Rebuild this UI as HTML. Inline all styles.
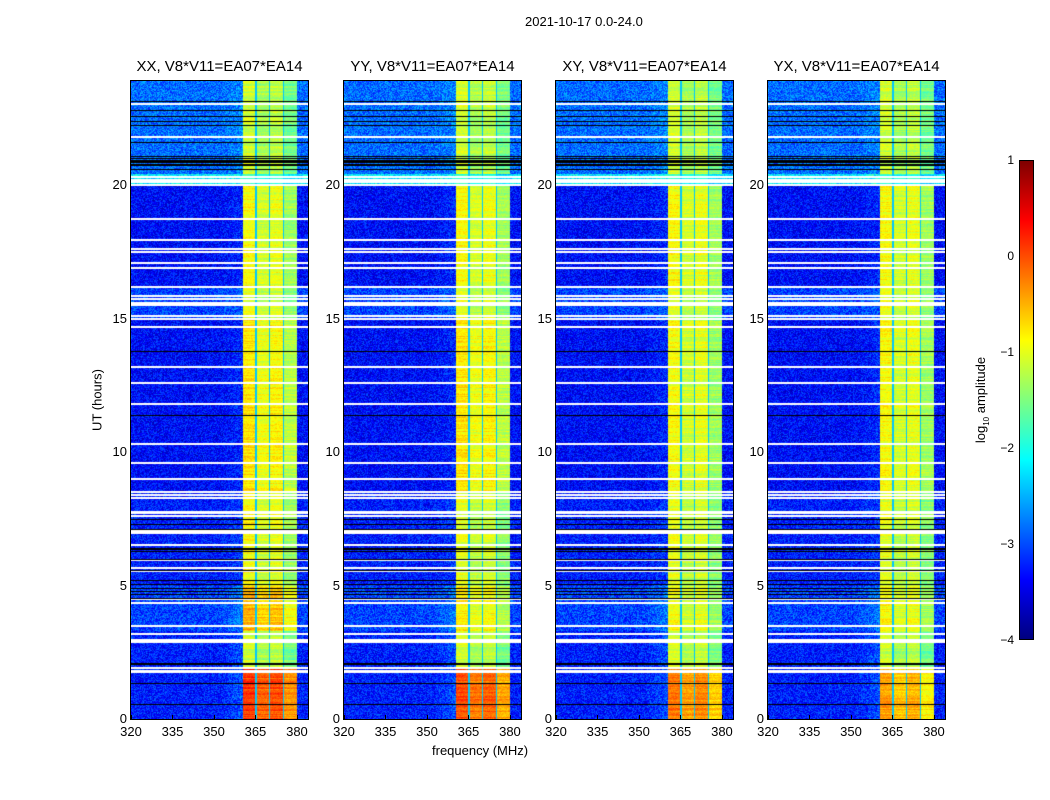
<!DOCTYPE html>
<html><head><meta charset="utf-8">
<style>
body{margin:0;background:#fff;font-family:"Liberation Sans","DejaVu Sans",sans-serif;}
#wrap{position:relative;width:1050px;height:800px;overflow:hidden;background:#fff;}
.t{position:absolute;white-space:nowrap;color:#000;}
canvas{position:absolute;}
.frame{position:absolute;border:1px solid #000;box-sizing:border-box;}
</style></head><body>
<div id="wrap">
<div class="t" style="left:525px;top:14px;font-size:13px;">2021-10-17 0.0-24.0</div>
<div class="t" style="top:400px;font-size:13px;transform:translate(-50%,-50%) rotate(-90deg);left:97px;">UT (hours)</div>
<div class="t" style="left:432px;top:743px;font-size:13px;">frequency (MHz)</div>
<div class="t" style="left:982px;top:400px;font-size:13px;transform:translate(-50%,-50%) rotate(-90deg);">log<sub style="font-size:8px">10</sub> amplitude</div>
</div>
<script>
// ---- data ----
const panelTitles=["XX, V8*V11=EA07*EA14","YY, V8*V11=EA07*EA14","XY, V8*V11=EA07*EA14","YX, V8*V11=EA07*EA14"];
const xTicks=[320,335,350,365,380];
const yTicks=[0,5,10,15,20];
const cbTicks=[1,0,-1,-2,-3,-4];
const subbandStart=[360.4,365.4,370.3,375.3];
const subbandEnd=[365.0,370.0,374.9,380.0];
const subbandOffset=[0.1,-0.1,0.0,-0.35];
const segStart=[0,1.9,3.3,5.0,8.5,15.0,16.2,20.0,20.4];
const segEnd=[1.9,3.3,5.0,8.5,15.0,16.2,20.0,20.4,24.0];
const segBg=[-3.25,-3.25,-3.05,-3.25,-3.35,-3.05,-3.35,-2.2,-2.85];
const bandXX=[0.0,-1.2,-0.6,-1.0,-0.85,-1.1,-1.0,-2.0,-1.2];
const bandYY=[-0.1,-1.2,-0.9,-1.1,-0.85,-1.1,-1.0,-2.0,-1.2];
const bandXY=[-0.3,-1.2,-1.0,-1.1,-1.0,-1.1,-1.0,-2.0,-1.2];
const bandYX=[-0.5,-1.2,-1.0,-1.1,-1.0,-1.1,-1.0,-2.0,-1.2];
const whiteFlags=[23.03,21.8,20.0,20.1,20.2,20.3,18.73,17.94,17.6,17.5,17.1,16.9,16.2,15.85,15.75,15.6,15.5,15.1,15.0,14.7,13.2,12.6,11.8,10.3,9.6,9.0,8.5,8.4,8.28,7.75,7.7,7.6,7.06,6.95,6.5,5.95,5.65,5.55,4.5,4.36,3.5,3.2,2.95,2.9,1.9,1.8,1.75];
const blackFlags=[23.15,22.8,22.6,22.4,22.25,21.6,21.1,21.0,20.95,20.9,20.85,20.8,20.75,20.6,13.8,11.4,7.5,7.3,7.1,6.4,6.35,6.3,5.98,5.6,5.2,5.05,4.92,4.8,4.7,4.55,2.1,2.05,1.35,0.55];
const bandSets=[bandXX,bandYY,bandXY,bandYX];
// ---- layout ----
const panelLeft=[131,344,556,768];
const pTop=81,pW=177,pH=638,fMin=320,fMax=384,hMin=0,hMax=23.9;
const wrap=document.getElementById('wrap');
function xs(f,i){return panelLeft[i]+(f-fMin)/(fMax-fMin)*pW;}
function ys(h){return pTop+pH-(h-hMin)/(hMax-hMin)*pH;}
function jet(t){t=Math.max(0,Math.min(1,t));
 const r=Math.max(0,Math.min(1,1.5-Math.abs(4*t-3))),g=Math.max(0,Math.min(1,1.5-Math.abs(4*t-2))),b=Math.max(0,Math.min(1,1.5-Math.abs(4*t-1)));
 return [r*255|0,g*255|0,b*255|0];}
function lv(v){return (v+4)/5;}
function hash(a,b){let h=(a*374761393+b*668265263)|0;h=(h^(h>>>13))*1274126177|0;return ((h^(h>>>16))>>>0)/4294967296;}
function txt(s,x,y,size,name,anchor){const d=document.createElement('div');d.className='t';d.textContent=s;
 d.style.fontSize=size+'px';d.style.left=x+'px';d.style.top=y+'px';
 d.style.transform=anchor||'translate(-50%,0)';
 
 
 wrap.appendChild(d);return d;}
for(let i=0;i<4;i++){
 const c=document.createElement('canvas');c.width=pW;c.height=pH;
 c.style.left=panelLeft[i]+'px';c.style.top=pTop+'px';
 
 
 wrap.appendChild(c);
 const ctx=c.getContext('2d');const img=ctx.createImageData(pW,pH);const band=bandSets[i];
 for(let y=0;y<pH;y++){
  const h=hMax-(y+0.5)/pH*(hMax-hMin);
  let s=0;for(let k=0;k<segStart.length;k++){if(h>=segStart[k]&&h<segEnd[k]){s=k;break;}}
  const rowVar=(hash(y,i+7)-0.5)*0.35;
  for(let x=0;x<pW;x++){
   const f=fMin+(x+0.5)/pW*(fMax-fMin);
   let v=segBg[s]+(hash(x+y*311,i)-0.5)*0.8;
   if(f>352&&f<360.4)v+=(f-352)/8.4*0.3*(s<3?1:0.5);
   for(let b=0;b<4;b++){
    if(f>=subbandStart[b]&&f<subbandEnd[b]){v=band[s]+subbandOffset[b]+rowVar+(hash(x+y*97,i+3)-0.5)*0.3;}
   }
   if(f>=360.4&&f<380){let inSb=false;for(let b=0;b<4;b++)if(f>=subbandStart[b]&&f<subbandEnd[b])inSb=true;if(!inSb)v=-2.4;}
   const [r,g,bb]=jet(lv(v));const p=(y*pW+x)*4;
   img.data[p]=r;img.data[p+1]=g;img.data[p+2]=bb;img.data[p+3]=255;
  }
 }
 ctx.putImageData(img,0,0);
 ctx.fillStyle='#fff';
 whiteFlags.forEach(h=>{ctx.fillRect(0,Math.round(ys(h)-pTop)-1,pW,2);});
 ctx.fillStyle='#000';
 blackFlags.forEach(h=>{ctx.fillRect(0,Math.round(ys(h)-pTop),pW,1);});
 const fr=document.createElement('div');fr.className='frame';
 fr.style.left=(panelLeft[i]-1)+'px';fr.style.top=(pTop-1)+'px';fr.style.width=(pW+2)+'px';fr.style.height=(pH+2)+'px';
 
 
 wrap.appendChild(fr);
 txt(panelTitles[i],panelLeft[i]+pW/2,58,15,'panel-title');
 xTicks.forEach(f=>{txt(String(f),xs(f,i),724,13,'x-tick-label');
  const tk=document.createElement('div');tk.style.cssText='position:absolute;width:1px;height:4px;background:#000;left:'+Math.round(xs(f,i))+'px;top:'+(pTop+pH-4)+'px';
  
  
  wrap.appendChild(tk);});
 yTicks.forEach(h=>{txt(String(h),panelLeft[i]-4,ys(h)-8,13,'y-tick-label','translate(-100%,0)');});
}
// colorbar
const cb=document.createElement('div');
cb.style.cssText='position:absolute;left:1019px;top:160px;width:15px;height:480px;border:1px solid #000;box-sizing:border-box;background:linear-gradient(to top,#00007f 0%,#0000ff 12.5%,#007fff 25%,#00ffff 37.5%,#7fff7f 50%,#ffff00 62.5%,#ff7f00 75%,#ff0000 87.5%,#7f0000 100%)';


wrap.appendChild(cb);
cbTicks.forEach(v=>{txt(v<0?'\u2212'+(-v):String(v),1014,160+(1-v)/5*480-7,12,'colorbar-tick-label','translate(-100%,0)');});
</script>
</body></html>
